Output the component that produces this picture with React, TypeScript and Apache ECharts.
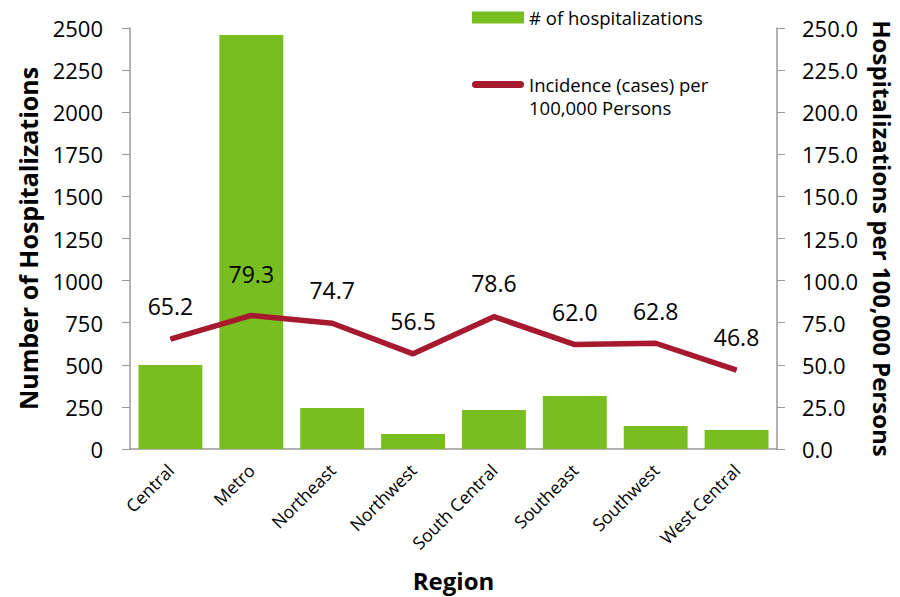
import React, { useEffect, useRef } from "react";
import * as echarts from "echarts";

const regions = ["Central", "Metro", "Northeast", "Northwest", "South Central", "Southeast", "Southwest", "West Central"];
const hospitalizations = [499, 2458, 243, 89, 232, 315, 137, 113];
const incidence = [65.2, 79.3, 74.7, 56.5, 78.6, 62.0, 62.8, 46.8];
const leftTicks = { min: 0, max: 2500, interval: 250 };
const rightTicks = { min: 0, max: 250, interval: 25 };

const barName = "# of hospitalizations";
const lineName = "Incidence (cases) per 100,000 Persons";

// label lift above each point in px (styling only)
const labelLift = [33, 41, 33, 33, 34, 33, 32, 33];

const FONT = "'Open Sans', Lato, sans-serif";
const RED = "#A6192E";
const GREEN = "#78BE20";

// thick rounded line at the top of a 52x30 box (tiny invisible anchors at bottom)
const LINE_ICON =
  "path://M3.5,0 L48.5,0 A3.5,3.5 0 0 1 48.5,7 L3.5,7 A3.5,3.5 0 0 1 3.5,0 Z M0,29.99 L0.01,30 L0,30 Z M52,29.99 L52,30 L51.99,30 Z";

export default function App() {
  const ref = useRef<HTMLDivElement>(null);
  useEffect(() => {
    if (!ref.current) return;
    const chart = echarts.init(ref.current, undefined, { renderer: "svg" });
    chart.setOption({
      animation: false,
      textStyle: { fontFamily: FONT, color: "#000" },
      grid: { left: 130, right: 123, top: 28, bottom: 148, outerBoundsMode: "none", containLabel: false },
      legend: [
        {
          data: [{ name: barName, icon: "rect" }],
          left: 467,
          top: 3,
          itemWidth: 52,
          itemHeight: 12,
          textStyle: { fontFamily: FONT, fontSize: 18.5, color: "#000" },
        },
        {
          data: [{ name: lineName, icon: LINE_ICON, itemStyle: { color: RED, borderWidth: 0 } }],
          left: 467,
          top: 68,
          itemWidth: 52,
          itemHeight: 30,
          formatter: () => "Incidence (cases) per\n100,000 Persons",
          textStyle: { fontFamily: FONT, fontSize: 18.5, color: "#000", lineHeight: 23 },
        },
      ],
      xAxis: {
        type: "category",
        data: regions,
        name: "Region",
        nameLocation: "middle",
        nameGap: 119,
        nameTextStyle: { fontFamily: FONT, fontSize: 24, fontWeight: "bold", color: "#000" },
        axisLine: { lineStyle: { color: "#999", width: 1.5 } },
        axisTick: { show: false },
        axisLabel: { rotate: 45, fontSize: 17.5, color: "#000", margin: 18, interval: 0 },
      },
      yAxis: [
        {
          type: "value",
          ...leftTicks,
          name: "Number of Hospitalizations",
          nameLocation: "middle",
          nameGap: 90,
          nameTextStyle: { fontFamily: FONT, fontSize: 25, fontWeight: "bold", color: "#000" },
          axisLine: { show: true, lineStyle: { color: "#999", width: 1.5 } },
          axisTick: { show: true, length: 8, lineStyle: { color: "#999" } },
          axisLabel: { fontSize: 22, color: "#000", margin: 27, formatter: (v: number) => String(v) },
          splitLine: { show: false },
        },
        {
          type: "value",
          ...rightTicks,
          position: "right",
          name: "Hospitalizations per 100,000 Persons",
          nameLocation: "middle",
          nameGap: 93,
          nameRotate: -90,
          nameTextStyle: { fontFamily: FONT, fontSize: 24, fontWeight: "bold", color: "#000" },
          axisLine: { show: true, lineStyle: { color: "#999", width: 1.5 } },
          axisTick: { show: true, length: 8, lineStyle: { color: "#999" } },
          axisLabel: { fontSize: 22, color: "#000", margin: 25, formatter: (v: number) => v.toFixed(1) },
          splitLine: { show: false },
        },
      ],
      series: [
        {
          name: barName,
          type: "bar",
          yAxisIndex: 0,
          data: hospitalizations,
          barCategoryGap: "21%",
          itemStyle: { color: GREEN },
        },
        {
          name: lineName,
          type: "line",
          yAxisIndex: 1,
          data: incidence.map((v, i) => ({
            value: v,
            label: { offset: [0, -labelLift[i]] },
          })),
          symbol: "circle",
          symbolSize: 1,
          showSymbol: true,
          lineStyle: { color: RED, width: 5.5 },
          itemStyle: { color: RED },
          label: {
            show: true,
            position: "inside",
            fontSize: 23,
            color: "#000",
            fontFamily: FONT,
            formatter: (p: any) => Number(p.value).toFixed(1),
          },
          z: 5,
        },
      ],
    });
    return () => chart.dispose();
  }, []);
  return <div ref={ref} style={{ width: 900, height: 597, position: "absolute", left: 0, top: 0 }} />;
}
